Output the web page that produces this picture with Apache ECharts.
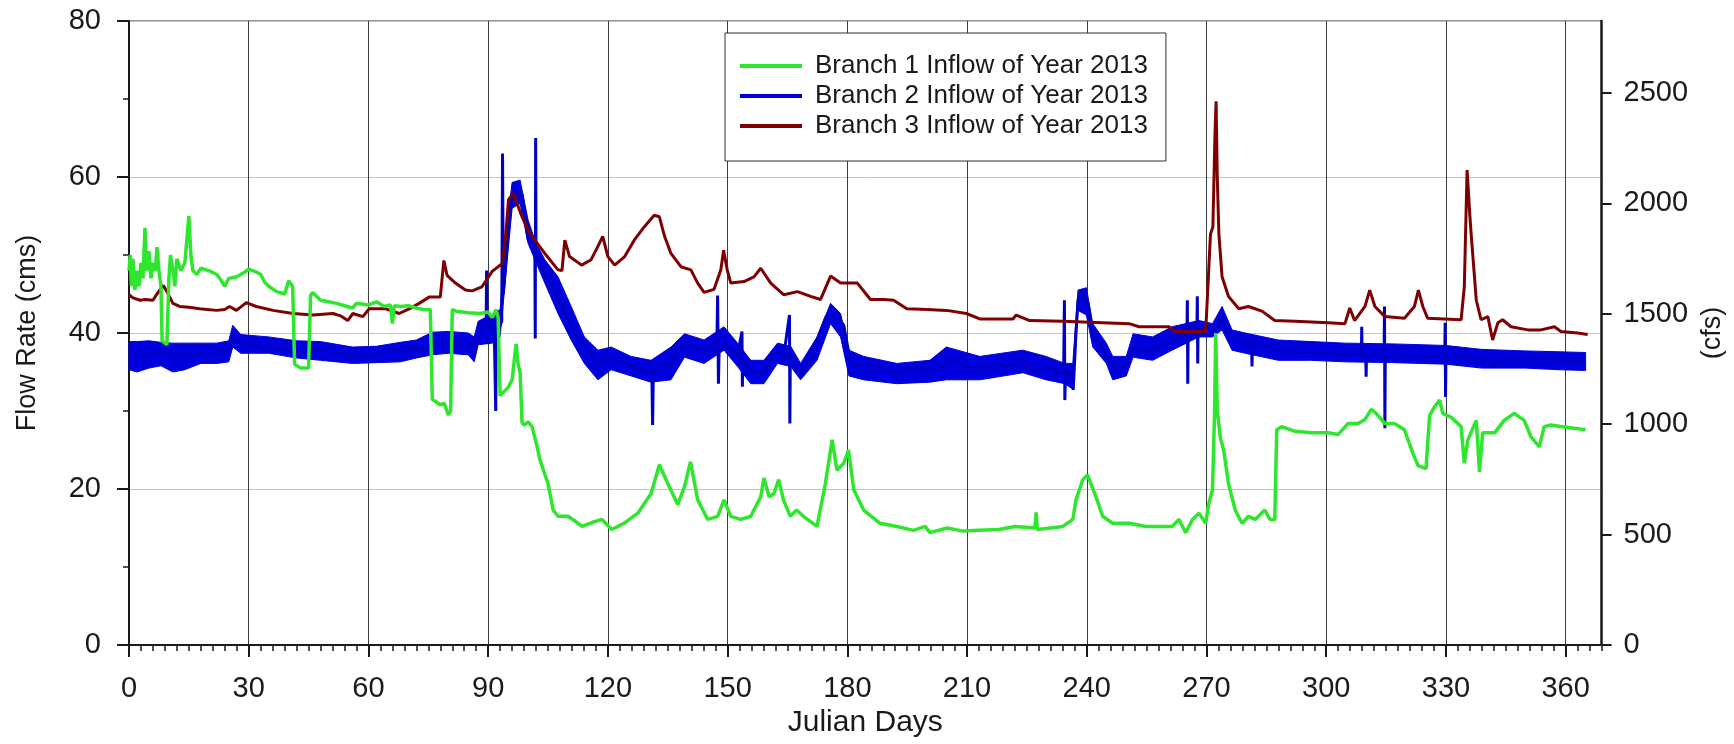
<!DOCTYPE html>
<html>
<head>
<meta charset="utf-8">
<title>Branch Inflows 2013</title>
<script src="https://cdn.jsdelivr.net/npm/echarts@6/dist/echarts.min.js"></script>
<style>
  html, body { margin: 0; padding: 0; background: #ffffff; }
  #chart { width: 1734px; height: 744px; }
</style>
</head>
<body>
<div id="chart"></div>
<script>
// Julian day, flow rate (cms)
const branch1 = [
  [0,48],[0.3,50],[0.6,46],[1,49.5],[1.5,45.5],[2,48],[2.5,46],[3,49],[3.5,47],[4,53.5],[4.4,48],[5,50.5],[5.5,47],[6,49],[6.6,48],[7,51],[7.5,48],[8,46],[8.3,39],[9.5,38.5],[10,47],[10.4,50],[11,48],[11.5,46],[12,49.5],[13,48],[14,49],[15,55],[15.5,50],[16,48],[17,47.5],[18,48.3],[20,48],[22,47.5],[23,46.8],[24,46],[25,47],[27,47.2],[29,47.8],[30,48.2],[32,47.8],[33,47.5],[34,46.5],[35,46],[37,45.3],[39,45],[40,46.7],[41,46],[41.5,36],[43,35.5],[45,35.5],[45.5,44.8],[46,45.2],[48,44.2],[50,44],[52,43.8],[54,43.5],[56,43.2],[57,43.8],[60,43.6],[62,44],[64,43.4],[65.5,43.6],[66,41.2],[66.5,43.5],[68,43.4],[70,43.5],[72,43.2],[74,43],[75.5,43],[76,31.5],[78,30.8],[79,31],[80,29.5],[80.6,30],[81,43],[82,42.8],[85,42.6],[88,42.5],[90,42.7],[91,42],[92,43],[92.5,42],[93,32],[94,32.5],[95,33],[96,34],[97,38.6],[97.5,36],[98,35],[98.5,28.5],[99,28.2],[100,28.6],[101,28],[102,26],[103,23.7],[105,20.7],[106.3,17.3],[107.5,16.5],[110,16.5],[112,15.8],[113.5,15.2],[116,15.7],[118.5,16.1],[121,14.8],[124,15.6],[127.5,16.9],[130.8,19.4],[132.9,23.1],[135,20.7],[137.5,18],[139.2,20.3],[140.7,23.5],[142.5,18.6],[145,16.1],[147.5,16.5],[149.1,18.6],[150.8,16.5],[153.3,16.1],[155.8,16.5],[158.3,19],[159.1,21.4],[160.4,19],[161.6,19.4],[162.8,21.2],[164,18.6],[165.7,16.5],[167.3,17.3],[169,16.5],[172.4,15.2],[174.5,20.7],[176.2,26.3],[177.4,22.4],[179.1,23.3],[180.3,25],[181.6,19.9],[184.1,17.3],[188.2,15.6],[192.4,15.2],[196.6,14.7],[199.5,15.2],[200.7,14.4],[205,15],[209,14.6],[213,14.7],[218,14.8],[222,15.2],[227,15],[227.3,17],[227.6,14.8],[234,15.2],[236.5,16.1],[237.3,18.6],[239,21.2],[240.2,21.8],[242.3,19],[244,16.5],[246.5,15.6],[250.6,15.6],[254.8,15.2],[261.4,15.2],[263.1,16.1],[264.8,14.4],[266.5,16.1],[268.1,16.9],[269.8,15.6],[270.6,18.2],[271.5,19.9],[272,29.5],[272.3,40],[272.7,30],[273.5,26.5],[274.3,25],[275.5,20.7],[277.2,17.3],[278.9,15.6],[280.5,16.5],[282.2,16.1],[284.6,17.3],[285.9,16.1],[287.1,16.1],[287.6,27.6],[288.8,28],[292.2,27.4],[296.3,27.2],[300.5,27.2],[303,27],[305.5,28.4],[308,28.4],[309.7,28.9],[311.3,30.2],[312.5,29.7],[314.7,28.4],[317.1,28.4],[319.6,27.6],[321.7,24.6],[323,23],[325,22.6],[325.9,29.4],[327.1,30.5],[328.4,31.4],[329.2,29.7],[331.3,29.2],[333.8,28],[334.6,23.3],[335.5,26.3],[336.5,27.5],[337.6,28.8],[338.4,22.2],[339.2,27.2],[342.2,27.2],[344.6,28.8],[347.1,29.7],[349.6,28.8],[351.3,26.7],[353.4,25.4],[354.6,28],[356.3,28.2],[358.8,28],[362.1,27.8],[365,27.6]
];

const branch2 = [
  [0,37.3],[2,37],[5,37.3],[8,37.5],[11,36.8],[14,37.2],[18,37.5],[22,37.5],[25,37.8],[26,39.6],[27,39],[30,38.4],[35,38.2],[40,38],[43,37.6],[46,38],[50,37.6],[55,37.2],[58,37],[62,37.2],[66,37.8],[70,37.8],[74,38],[77,38.7],[80,38.8],[84,38.4],[86,38.3],[87,38.8],[88.5,40.5],[89.5,41],[89.6,48],[89.7,41],[90.5,41],[91.5,41],[91.9,30],[92,40.5],[93,41],[93.4,41.5],[93.6,63],[93.8,45],[95,53],[96,57.5],[97,58.1],[98.5,57.8],[100,52],[101.7,50.6],[101.8,39.3],[101.9,65],[102,50],[104.2,48],[106.6,45.5],[109.2,42.5],[112.5,39.5],[115,37.8],[117.5,35.9],[120,36.8],[123.3,36.2],[125.8,35.8],[128.3,35.3],[131,35.3],[131.2,28.2],[131.4,35.3],[135.8,36],[137.5,38],[140.8,38.4],[144.1,37.6],[147.3,38.5],[147.5,44.8],[147.7,33.5],[147.9,38.5],[150.8,37.8],[152.5,37.2],[153.6,40.2],[153.7,33.1],[153.8,36.5],[155.8,35],[159.1,35],[161.6,37.4],[164.1,37.2],[165.5,42.3],[165.6,28.4],[165.7,36],[168.7,35],[171.6,38],[174.6,42],[176.2,42.8],[179.1,41],[180.8,36.2],[184.1,35.5],[188.2,35.6],[192.4,34.8],[196.6,35.6],[200.7,35.1],[204.9,36.1],[207.3,36.6],[209.8,35.7],[213.2,35.5],[217.3,35.6],[221.5,36],[224,36.5],[225.7,35],[229.8,35.5],[233.1,35],[234.2,35],[234.4,44.2],[234.5,31.4],[234.7,34.8],[236.5,34.8],[236.6,32.7],[237.3,40],[237.8,44.2],[238.6,45.2],[240.3,43.8],[241.5,39.7],[244.9,37.4],[246.5,35.5],[249.9,35.8],[251.6,38.4],[254,37.6],[256.5,38],[259.8,38.6],[263.1,39.3],[265.1,40],[265.2,44.2],[265.3,33.5],[265.4,40],[267.6,40.5],[267.7,44.7],[267.8,36.1],[267.9,40.5],[269.8,40.3],[272.3,40.3],[273.9,42],[275.5,39.5],[279.7,38.9],[281.3,38.9],[281.4,35.7],[281.5,38.6],[283.9,38.6],[288,37.8],[292.2,37.6],[300.5,37.4],[304.7,37.3],[308.8,37.2],[308.9,40.8],[309,37.2],[309.9,37],[310,34.4],[310.1,37.2],[314.5,37],[314.6,43.4],[314.7,27.8],[314.8,37],[321.4,37],[329.7,37],[329.8,41.3],[329.9,31.8],[330,37],[336,37],[339,36.1],[340,36.8],[342.2,35.8],[344,36.6],[350.5,36.6],[358.8,36.5],[365,36.3]
];

// lower and upper edge of the dense Branch 2 record: [day, low, high]
const branch2Band = [
  [0,35.3,38.9],[2,35,38.9],[5,35.5,39],[8,35.8,38.8],[11,35,38.7],[14,35.3,38.7],[18,36.1,38.7],[22,36.1,38.7],[25,36.3,39],[26,38.2,41],[28,37.4,39.8],[35,37.4,39.5],[42,36.8,39],[48,36.5,38.9],[56,36.1,38.2],[62,36.2,38.3],[68,36.3,38.8],[72,36.8,39.1],[76,37.2,40.1],[80,37.4,40.2],[85,37.2,40],[86.5,36.3,39.5],[87.5,38.5,41.5],[91,38.7,42.4],[93,39.5,43],[94,45,50],[95,50.6,55],[96,56,59.3],[98,56.6,59.6],[100,51.5,54.5],[101.7,49.4,51.9],[104.2,46.4,49.4],[107.5,42.5,47.2],[110.8,39.1,43.4],[114.1,36.1,39.5],[117.5,34,37.8],[120.8,35.3,38.2],[125.8,34.5,37],[130.8,33.7,36.5],[135.8,34,38.2],[139.2,36.9,39.9],[144.1,36.1,39.1],[149.1,37.8,40.8],[152.5,35.7,38.7],[155.8,33.5,36.5],[159.1,33.5,36.5],[162.5,36.1,38.7],[165.8,35.7,38.3],[168.3,34,36.1],[172.4,36.5,39.5],[175.8,41.2,43.8],[178.3,39.5,42.5],[180.4,34.5,37.8],[184.1,34,37],[192.4,33.5,36.1],[200.7,33.7,36.5],[204.8,34,38.2],[213.2,34,37],[224,34.9,37.8],[229.8,34,37],[234.5,33.5,36.1],[236.5,32.8,36.1],[237.8,42.9,45.5],[239.9,42.3,45.8],[241.5,38.2,41.2],[244.9,36.1,38.7],[246.5,34,37],[249.9,34.5,37],[251.6,36.9,39.9],[256.5,36.5,39.5],[261.4,37.8,40.8],[268.1,39.5,41.6],[271.5,39.5,41.2],[273.9,40.4,43.4],[276.4,37.8,40.4],[279.7,37.4,40],[288,36.5,39.1],[296.3,36.5,38.9],[304.7,36.3,38.7],[317,36.2,38.6],[330,36,38.4],[339,35.5,37.9],[350,35.5,37.7],[358,35.3,37.6],[365,35.2,37.5]
];

const branch3 = [
  [0,44.9],[1,44.5],[2.8,44.2],[4,44.3],[6,44.2],[7,45],[8.6,46.1],[9.5,45.3],[11,43.8],[12.7,43.4],[15,43.3],[17.7,43.1],[21.9,42.9],[24,43],[25.2,43.4],[26.9,42.9],[29.4,43.9],[31.9,43.4],[36.1,42.9],[41.1,42.5],[46.1,42.3],[51.1,42.5],[53,42.2],[54.8,41.6],[56.1,42.5],[58.6,42.1],[60.2,43.1],[64.4,43.1],[67.7,42.5],[70.2,43.1],[72.7,43.8],[75.2,44.6],[78,44.6],[78.9,49.3],[79.7,47.4],[81.8,46.4],[84.3,45.5],[86,45.4],[88.4,45.9],[91,47.9],[93.5,48.9],[94.3,51.9],[95.1,57.1],[96.3,57.9],[98.4,55],[100,53.2],[101.7,51.9],[104.2,50.2],[107.5,48.1],[108.5,48],[109.2,51.9],[110.4,49.8],[113.4,48.7],[115.8,49.4],[117.5,51.1],[118.7,52.4],[120,49.8],[121.7,48.7],[124.2,49.8],[126.6,51.9],[129.1,53.6],[131.6,55.1],[132.9,54.9],[134.2,52.4],[135.8,50.2],[138.3,48.5],[140.8,48.1],[142.5,46.4],[144.1,45.2],[146.6,45.6],[148.3,48.1],[149,50.6],[149.9,48.1],[150.8,46.4],[154.1,46.6],[156.6,47.2],[158.3,48.3],[160.8,46.4],[164.1,44.9],[167.5,45.3],[170.8,44.7],[173.3,44.3],[175.8,47.3],[178.3,46.4],[182.5,46.4],[185.8,44.3],[189.2,44.3],[191.6,44.2],[194.9,43.1],[200,43],[204.9,42.9],[209.8,42.5],[213.2,41.8],[221.5,41.8],[222.3,42.3],[225.7,41.6],[234,41.5],[250.6,41.2],[253.1,40.8],[260.6,40.8],[262.2,40.2],[269.8,40.2],[271,52.7],[271.6,53.6],[272.1,65],[272.4,69.7],[272.7,60],[273.1,52.7],[273.9,47.2],[275.5,44.7],[278.1,43.1],[280.5,43.4],[283.9,42.8],[287.1,41.6],[292.2,41.5],[300.5,41.3],[304.7,41.2],[305.9,43.2],[307.1,41.6],[309.7,43.4],[310.9,45.5],[312.2,43.4],[314.7,42.1],[319.6,41.9],[322.1,43.4],[323.1,45.5],[324.2,43.4],[325.4,41.9],[333.8,41.7],[334.6,45.9],[335.3,60.9],[336,55],[336.3,52.8],[337.6,44.2],[338.8,41.7],[340.5,42.1],[341.7,39.1],[343,41.3],[344.2,41.7],[346.3,40.8],[350.5,40.4],[353.8,40.4],[357.2,40.8],[358.8,40.2],[363,40],[365.5,39.8]
];

const seriesNames = ['Branch 1 Inflow of Year 2013', 'Branch 2 Inflow of Year 2013', 'Branch 3 Inflow of Year 2013'];
const dayTicks = [0, 30, 60, 90, 120, 150, 180, 210, 240, 270, 300, 330, 360];
const cfsTicks = [0, 500, 1000, 1500, 2000, 2500];
const CFS_PER_CMS = 35.3147;
const DAY_MAX = 369;
const CMS_MAX = 80;

const FONT = '"Liberation Sans", Arial, sans-serif';
const GREEN = '#2fe62f';
const BLUE = '#0000dc';
const RED = '#7e0000';
const INK = '#1a1a1a';

const chart = echarts.init(document.getElementById('chart'), null, { renderer: 'canvas' });

// filled envelope of the Branch 2 record, drawn once as a polygon
function renderBand(params, api) {
  if (params.dataIndex !== 0) return null;
  const upper = branch2Band.map(r => api.coord([r[0], r[2]]));
  const lower = branch2Band.map(r => api.coord([r[0], r[1]])).reverse();
  return {
    type: 'polygon',
    shape: { points: upper.concat(lower) },
    style: { fill: BLUE, stroke: BLUE, lineWidth: 1 }
  };
}

const option = {
  backgroundColor: '#ffffff',
  animation: false,
  textStyle: { fontFamily: FONT, color: INK },
  grid: {
    left: 129, right: 126, top: 21, bottom: 99,
    show: true, borderColor: '#2a2a2a', borderWidth: 1, backgroundColor: 'transparent'
  },
  legend: {
    orient: 'vertical',
    left: 725, top: 33,
    data: seriesNames,
    icon: 'rect',
    itemWidth: 62, itemHeight: 4, itemGap: 4,
    padding: [20, 18, 22, 15],
    backgroundColor: '#ffffff',
    borderColor: '#333333', borderWidth: 1,
    selectedMode: false,
    textStyle: { fontFamily: FONT, fontSize: 26, color: INK, lineHeight: 26, padding: [0, 0, 0, 8] }
  },
  xAxis: [
    {
      type: 'value', min: 0, max: DAY_MAX, interval: 30,
      name: 'Julian Days', nameLocation: 'middle', nameGap: 58,
      nameTextStyle: { fontFamily: FONT, fontSize: 30, color: INK },
      axisLine: { show: true, onZero: false, lineStyle: { color: INK, width: 2 } },
      axisTick: { show: true, length: 12, customValues: dayTicks, lineStyle: { color: INK, width: 2 } },
      axisLabel: { customValues: dayTicks, margin: 29, fontSize: 29, color: INK, fontFamily: FONT },
      splitLine: { show: true, lineStyle: { color: '#3c3c3c', width: 1 } }
    },
    {
      // minor day ticks every 3 days
      type: 'value', min: 0, max: DAY_MAX, interval: 3, position: 'bottom',
      axisLine: { show: false },
      axisTick: { show: true, length: 6, lineStyle: { color: INK, width: 1.5 } },
      axisLabel: { show: false },
      splitLine: { show: false }
    }
  ],
  yAxis: [
    {
      type: 'value', min: 0, max: CMS_MAX, interval: 20, position: 'left',
      name: 'Flow Rate (cms)', nameLocation: 'middle', nameGap: 88,
      nameTextStyle: { fontFamily: FONT, fontSize: 27, color: INK },
      axisLine: { show: true, onZero: false, lineStyle: { color: INK, width: 2 } },
      axisTick: { show: true, length: 12, lineStyle: { color: INK, width: 2 } },
      minorTick: { show: true, splitNumber: 2, length: 6, lineStyle: { color: INK, width: 1.5 } },
      axisLabel: { margin: 28, fontSize: 29, color: INK, fontFamily: FONT },
      splitLine: { show: true, lineStyle: { color: '#c4c4c4', width: 1 } }
    },
    {
      type: 'value', min: 0, max: CMS_MAX * CFS_PER_CMS, position: 'right',
      name: '(cfs)', nameLocation: 'middle', nameGap: 81,
      nameTextStyle: { fontFamily: FONT, fontSize: 27, color: INK },
      axisLine: { show: true, onZero: false, lineStyle: { color: INK, width: 2.5 } },
      axisTick: { show: true, length: 10, customValues: cfsTicks, lineStyle: { color: INK, width: 2 } },
      axisLabel: { customValues: cfsTicks, margin: 22, fontSize: 29, color: INK, fontFamily: FONT,
                   formatter: v => String(Math.round(v)) },
      splitLine: { show: false }
    }
  ],
  series: [
    {
      name: 'Branch 2 envelope', type: 'custom', coordinateSystem: 'cartesian2d',
      data: branch2Band, encode: { x: 0, y: [1, 2] },
      renderItem: renderBand, silent: true, z: 2
    },
    {
      name: seriesNames[1], type: 'line', data: branch2,
      color: BLUE, symbol: 'none', lineStyle: { color: '#0000c4', width: 3 }, z: 3
    },
    {
      name: seriesNames[2], type: 'line', data: branch3,
      color: RED, symbol: 'none', lineStyle: { color: RED, width: 3 }, z: 4
    },
    {
      name: seriesNames[0], type: 'line', data: branch1,
      color: GREEN, symbol: 'none', lineStyle: { color: GREEN, width: 3.5 }, z: 5
    }
  ]
};

chart.setOption(option);
</script>
</body>
</html>
